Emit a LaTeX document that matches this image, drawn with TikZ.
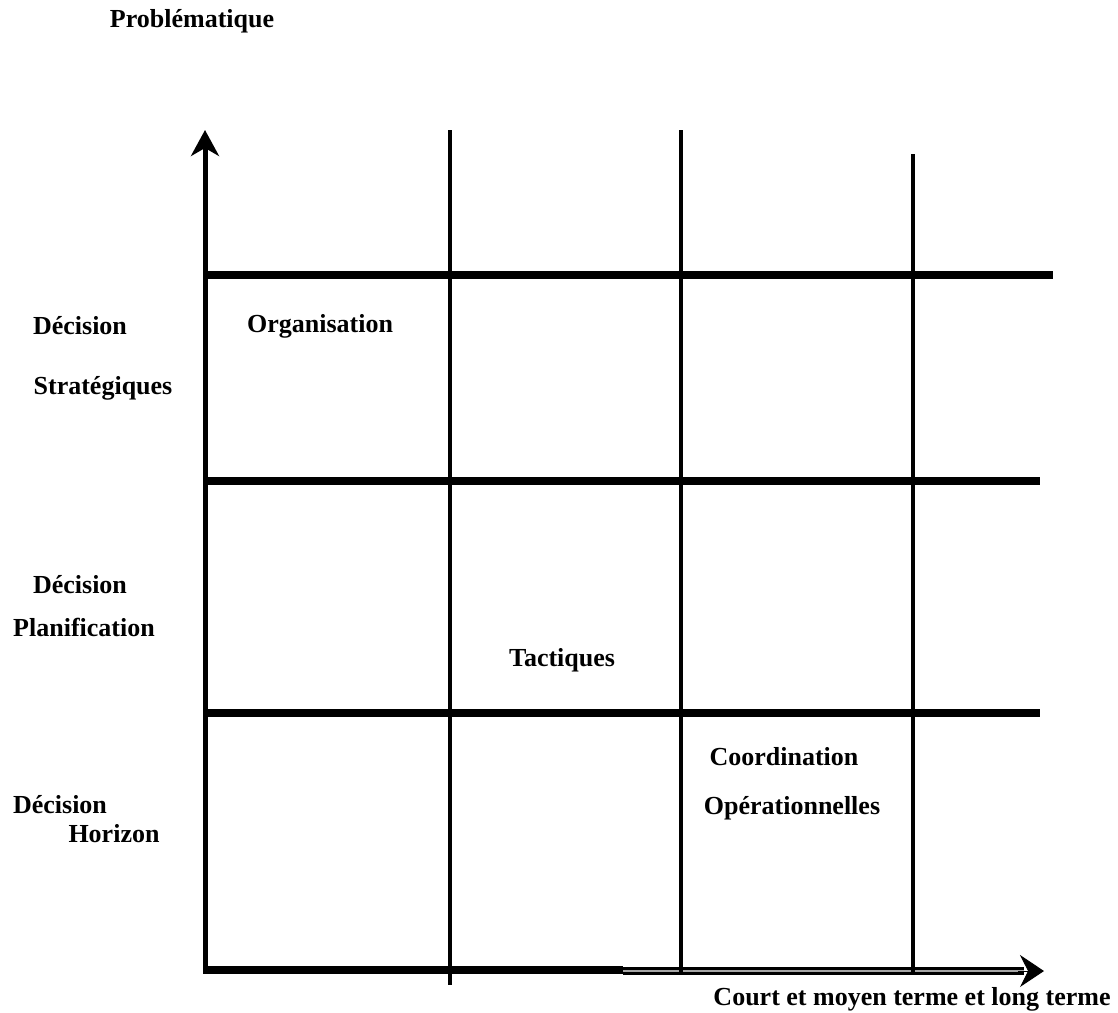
\documentclass[tikz,border=0pt]{standalone}
\usepackage{fontspec}
\setmainfont{Liberation Serif}
\usetikzlibrary{arrows.meta}
\begin{document}
\begin{tikzpicture}[
  x=1pt, y=-1pt,
  lab/.style={font=\fontsize{26}{30}\selectfont\bfseries, inner sep=0pt},
  vline/.style={draw, line width=4pt},
  hline/.style={draw, line width=8pt},
  yaxis/.style={draw, line width=5pt, -{Stealth[length=26pt, width=28pt, inset=8pt]}},
  xaxis/.style={draw, line width=2.6pt, double=gray!70, double distance=2.6pt},
  xtip/.style={draw, line width=1pt, -{Stealth[length=24pt, width=32pt, inset=8pt]}}
]
\useasboundingbox (0,0) rectangle (1118,1012);

% --- axes ---
\coordinate (O) at (203,970);
\coordinate (ytop) at (205,130);
\coordinate (xmid) at (623,971);
\coordinate (xend) at (1024,971);
\coordinate (xtip) at (1044,971);

\draw[yaxis] (205,972) -- (ytop);
\draw[hline] (O) -- (623,970);
\draw[xaxis] (xmid) -- (xend);
\draw[xtip] (1018,971) -- (xtip);

% --- grid: horizontal bands ---
\coordinate (h1a) at (203,275); \coordinate (h1b) at (1053,275);
\coordinate (h2a) at (203,481); \coordinate (h2b) at (1040,481);
\coordinate (h3a) at (203,713); \coordinate (h3b) at (1040,713);
\draw[hline] (h1a) -- (h1b);
\draw[hline] (h2a) -- (h2b);
\draw[hline] (h3a) -- (h3b);

% --- grid: vertical lines ---
\coordinate (v1a) at (450,130); \coordinate (v1b) at (450,985);
\coordinate (v2a) at (681,130); \coordinate (v2b) at (681,972);
\coordinate (v3a) at (913,154); \coordinate (v3b) at (913,972);
\draw[vline] (v1a) -- (v1b);
\draw[vline] (v2a) -- (v2b);
\draw[vline] (v3a) -- (v3b);

% --- labels ---
\node[lab] (prob)  at (192,21)  {Problématique};
\node[lab] (dec1)  at (80,326)  {Décision};
\node[lab] (strat) at (103,388) {Stratégiques};
\node[lab] (dec2)  at (80,585)  {Décision};
\node[lab] (plan)  at (84,627)  {Planification};
\node[lab] (dec3)  at (60,805)  {Décision};
\node[lab] (hor)   at (114,834) {Horizon};

\node[lab] (orga)  at (320,326) {Organisation};
\node[lab] (tact)  at (562,660) {Tactiques};
\node[lab] (coord) at (784,757) {Coordination};
\node[lab] (oper)  at (792,808) {Opérationnelles};

\node[lab] (terme) at (912,999) {Court et moyen terme et long terme};

\end{tikzpicture}
\end{document}
